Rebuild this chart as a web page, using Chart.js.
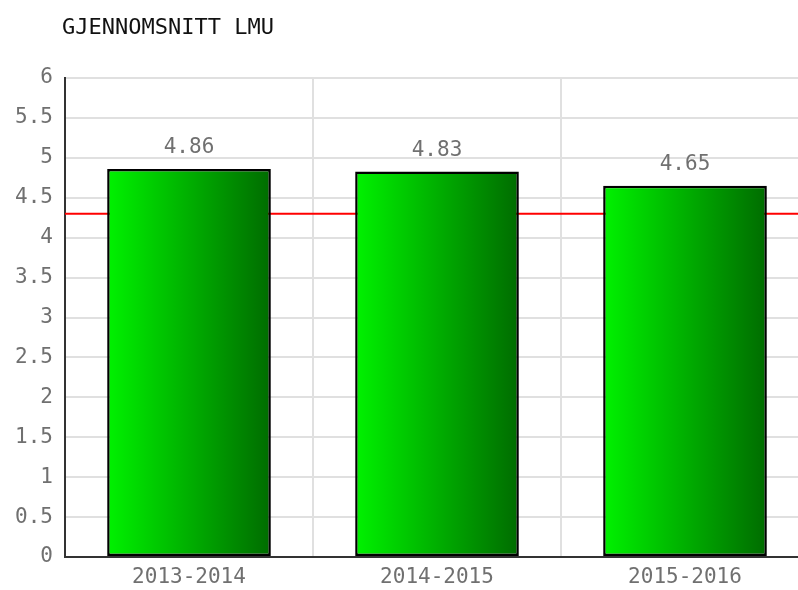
<!DOCTYPE html>
<html>
<head>
<meta charset="utf-8">
<script src="https://cdn.jsdelivr.net/npm/chart.js@4.4.1/dist/chart.umd.min.js"></script>
<style>
  html, body { margin: 0; padding: 0; background: #fff; overflow: hidden; }
  #wrap { width: 812px; height: 590px; }
</style>
</head>
<body>
<div id="wrap"><canvas id="chart" width="812" height="590"></canvas></div>
<script>
// data
var seasons = ["2013-2014", "2014-2015", "2015-2016"];
var averages = [4.86, 4.83, 4.65];
var referenceLevel = [4.3];
var yTicks = [0, 0.5, 1, 1.5, 2, 2.5, 3, 3.5, 4, 4.5, 5, 5.5, 6];
var chartTitle = "GJENNOMSNITT LMU";

var monoFont = "'DejaVu Sans Mono', 'Liberation Mono', monospace";

// green gradient from left to right on each bar
function barFill(ctx) {
	var chart = ctx.chart;
	if (!chart.chartArea) return "#00c000";
	var x = chart.scales.x;
	var cw = x.width / seasons.length;
	var bw = cw * 0.66;
	var cx = x.getPixelForValue(ctx.dataIndex);
	var g = chart.ctx.createLinearGradient(cx - bw / 2, 0, cx + bw / 2, 0);
	g.addColorStop(0, "#00f200");
	g.addColorStop(1, "#006c00");
	return g;
}

var extras = {
	id: "extras",
	beforeDatasetsDraw: function(chart) {
		// red reference line, behind the bars
		var c = chart.ctx, a = chart.chartArea;
		var y = chart.scales.y.getPixelForValue(referenceLevel[0]);
		c.save();
		c.strokeStyle = "#ff0000";
		c.lineWidth = 2;
		c.beginPath();
		c.moveTo(a.left, y);
		c.lineTo(a.right, y);
		c.stroke();
		c.restore();
	},
	afterDatasetsDraw: function(chart) {
		var c = chart.ctx;
		var meta = chart.getDatasetMeta(0);
		c.save();
		c.font = "21px " + monoFont;
		c.fillStyle = "#707070";
		c.textAlign = "center";
		c.textBaseline = "middle";
		meta.data.forEach(function(bar, i) {
			c.fillText(averages[i].toFixed(2), bar.x, bar.y - 21);
		});
		// title
		c.font = "22px " + monoFont;
		c.fillStyle = "#111";
		c.textAlign = "left";
		c.fillText(chartTitle, 62, 28);
		c.restore();
	}
};

new Chart(document.getElementById("chart"), {
	type: "bar",
	data: {
		labels: seasons,
		datasets: [{
			data: averages,
			backgroundColor: barFill,
			borderColor: "#000",
			borderWidth: 2.5,
			borderSkipped: false,
			categoryPercentage: 0.66,
			barPercentage: 1
		}]
	},
	options: {
		responsive: false,
		animation: false,
		layout: { padding: { top: 78, right: 3, left: 0, bottom: 0 } },
		plugins: {
			legend: { display: false },
			tooltip: { enabled: false }
		},
		scales: {
			x: {
				grid: { color: "#e0e0e0", lineWidth: 2, drawTicks: false },
				border: { color: "#333", width: 2 },
				ticks: { color: "#707070", font: { family: monoFont, size: 21 }, padding: 8 },
				afterFit: function(s) { s.height = 33; }
			},
			y: {
				min: 0,
				max: 6,
				afterBuildTicks: function(s) { s.ticks = yTicks.map(function(v) { return { value: v }; }); },
				grid: { color: "#e0e0e0", lineWidth: 2, drawTicks: false },
				border: { color: "#333", width: 2 },
				ticks: {
					color: "#707070",
					font: { family: monoFont, size: 21 },
					padding: 12,
					callback: function(v) { return String(v); }
				},
				afterFit: function(s) { s.width = 65; }
			}
		}
	},
	plugins: [extras]
});
</script>
</body>
</html>
